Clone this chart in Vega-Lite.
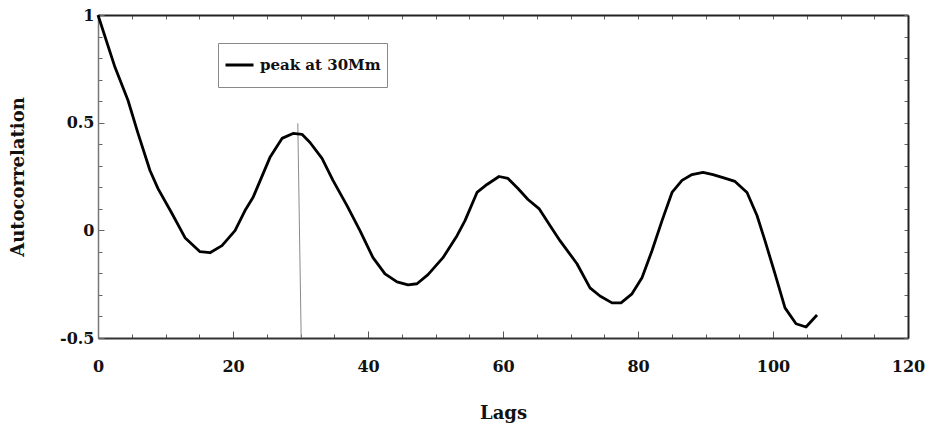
{
  "$schema": "https://vega.github.io/schema/vega-lite/v6.json",
  "autosize": "none",
  "width": 810,
  "height": 323,
  "padding": {"left": 98, "top": 15, "right": 19, "bottom": 88},
  "background": "white",
  "config": {
    "view": {"stroke": null},
    "axis": {"grid": false, "labelFont": "DejaVu Serif", "titleFont": "DejaVu Serif", "labelFontWeight": "bold", "titleFontWeight": "bold", "labelColor": "#111", "titleColor": "#111", "labelFontSize": 16, "titleFontSize": 18}
  },
  "datasets": {
    "acf": [
      {"lag": 0, "value": 1.0, "series": "peak at 30Mm"},
      {"lag": 2.52, "value": 0.757, "series": "peak at 30Mm"},
      {"lag": 4.44, "value": 0.604, "series": "peak at 30Mm"},
      {"lag": 5.93, "value": 0.45, "series": "peak at 30Mm"},
      {"lag": 7.7, "value": 0.278, "series": "peak at 30Mm"},
      {"lag": 8.89, "value": 0.194, "series": "peak at 30Mm"},
      {"lag": 10.96, "value": 0.078, "series": "peak at 30Mm"},
      {"lag": 12.89, "value": -0.034, "series": "peak at 30Mm"},
      {"lag": 15.11, "value": -0.099, "series": "peak at 30Mm"},
      {"lag": 16.59, "value": -0.104, "series": "peak at 30Mm"},
      {"lag": 18.37, "value": -0.071, "series": "peak at 30Mm"},
      {"lag": 20.3, "value": -0.001, "series": "peak at 30Mm"},
      {"lag": 21.78, "value": 0.092, "series": "peak at 30Mm"},
      {"lag": 22.96, "value": 0.152, "series": "peak at 30Mm"},
      {"lag": 25.48, "value": 0.339, "series": "peak at 30Mm"},
      {"lag": 27.26, "value": 0.427, "series": "peak at 30Mm"},
      {"lag": 28.89, "value": 0.45, "series": "peak at 30Mm"},
      {"lag": 30.22, "value": 0.446, "series": "peak at 30Mm"},
      {"lag": 31.41, "value": 0.408, "series": "peak at 30Mm"},
      {"lag": 33.19, "value": 0.334, "series": "peak at 30Mm"},
      {"lag": 34.81, "value": 0.232, "series": "peak at 30Mm"},
      {"lag": 36.89, "value": 0.115, "series": "peak at 30Mm"},
      {"lag": 38.81, "value": -0.001, "series": "peak at 30Mm"},
      {"lag": 40.74, "value": -0.127, "series": "peak at 30Mm"},
      {"lag": 42.52, "value": -0.202, "series": "peak at 30Mm"},
      {"lag": 44.3, "value": -0.239, "series": "peak at 30Mm"},
      {"lag": 45.93, "value": -0.253, "series": "peak at 30Mm"},
      {"lag": 47.26, "value": -0.248, "series": "peak at 30Mm"},
      {"lag": 48.89, "value": -0.206, "series": "peak at 30Mm"},
      {"lag": 51.11, "value": -0.127, "series": "peak at 30Mm"},
      {"lag": 53.19, "value": -0.025, "series": "peak at 30Mm"},
      {"lag": 54.37, "value": 0.045, "series": "peak at 30Mm"},
      {"lag": 56.15, "value": 0.176, "series": "peak at 30Mm"},
      {"lag": 57.63, "value": 0.213, "series": "peak at 30Mm"},
      {"lag": 59.41, "value": 0.25, "series": "peak at 30Mm"},
      {"lag": 60.74, "value": 0.241, "series": "peak at 30Mm"},
      {"lag": 62.22, "value": 0.194, "series": "peak at 30Mm"},
      {"lag": 63.7, "value": 0.143, "series": "peak at 30Mm"},
      {"lag": 65.33, "value": 0.101, "series": "peak at 30Mm"},
      {"lag": 66.96, "value": 0.022, "series": "peak at 30Mm"},
      {"lag": 68.44, "value": -0.048, "series": "peak at 30Mm"},
      {"lag": 70.96, "value": -0.155, "series": "peak at 30Mm"},
      {"lag": 72.89, "value": -0.267, "series": "peak at 30Mm"},
      {"lag": 74.37, "value": -0.305, "series": "peak at 30Mm"},
      {"lag": 76.15, "value": -0.337, "series": "peak at 30Mm"},
      {"lag": 77.48, "value": -0.337, "series": "peak at 30Mm"},
      {"lag": 79.11, "value": -0.295, "series": "peak at 30Mm"},
      {"lag": 80.59, "value": -0.22, "series": "peak at 30Mm"},
      {"lag": 82.07, "value": -0.095, "series": "peak at 30Mm"},
      {"lag": 83.56, "value": 0.045, "series": "peak at 30Mm"},
      {"lag": 85.04, "value": 0.176, "series": "peak at 30Mm"},
      {"lag": 86.52, "value": 0.232, "series": "peak at 30Mm"},
      {"lag": 88.0, "value": 0.259, "series": "peak at 30Mm"},
      {"lag": 89.63, "value": 0.269, "series": "peak at 30Mm"},
      {"lag": 91.11, "value": 0.259, "series": "peak at 30Mm"},
      {"lag": 92.59, "value": 0.245, "series": "peak at 30Mm"},
      {"lag": 94.37, "value": 0.227, "series": "peak at 30Mm"},
      {"lag": 96.15, "value": 0.176, "series": "peak at 30Mm"},
      {"lag": 97.63, "value": 0.069, "series": "peak at 30Mm"},
      {"lag": 98.81, "value": -0.048, "series": "peak at 30Mm"},
      {"lag": 100.3, "value": -0.202, "series": "peak at 30Mm"},
      {"lag": 101.78, "value": -0.36, "series": "peak at 30Mm"},
      {"lag": 103.41, "value": -0.434, "series": "peak at 30Mm"},
      {"lag": 104.89, "value": -0.449, "series": "peak at 30Mm"},
      {"lag": 106.52, "value": -0.393, "series": "peak at 30Mm"}
    ],
    "ref": [
      {"lag": 29.6, "value": 0.497},
      {"lag": 30.1, "value": -0.5}
    ]
  },
  "layer": [
    {
      "data": {"name": "ref"},
      "mark": {"type": "line", "stroke": "#8a8a8a", "strokeWidth": 1},
      "encoding": {
        "x": {"field": "lag", "type": "quantitative", "scale": {"domain": [0, 120], "nice": false, "zero": false},
          "axis": {"orient": "top", "labels": false, "title": null, "values": [0,5,10,15,20,25,30,35,40,45,50,55,60,65,70,75,80,85,90,95,100,105,110,115,120], "tickSize": -4, "tickColor": "#666", "domainColor": "#222", "domainWidth": 2}},
        "y": {"field": "value", "type": "quantitative", "scale": {"domain": [-0.5, 1], "nice": false, "zero": false},
          "axis": {"orient": "right", "labels": false, "title": null, "values": [-0.5,-0.4,-0.3,-0.2,-0.1,0,0.1,0.2,0.3,0.4,0.5,0.6,0.7,0.8,0.9,1], "tickSize": -4, "tickColor": "#666", "domainColor": "#222", "domainWidth": 2}}
      }
    },
    {
      "data": {"name": "acf"},
      "mark": {"type": "line", "strokeWidth": 2.8, "strokeJoin": "round"},
      "encoding": {
        "x": {"field": "lag", "type": "quantitative", "scale": {"domain": [0, 120], "nice": false, "zero": false},
          "axis": {"orient": "bottom", "title": "Lags", "values": [0,5,10,15,20,25,30,35,40,45,50,55,60,65,70,75,80,85,90,95,100,105,110,115,120],
            "labelExpr": "datum.value % 20 === 0 ? '' + datum.value : ''",
            "tickSize": {"condition": {"test": "datum.value % 20 === 0", "value": -7}, "value": -4},
            "tickColor": "#555", "domainColor": "#333", "domainWidth": 2, "labelPadding": 27, "labelBaseline": "top", "labelFlush": false, "titlePadding": 30}},
        "y": {"field": "value", "type": "quantitative", "scale": {"domain": [-0.5, 1], "nice": false, "zero": false},
          "axis": {"orient": "left", "title": "Autocorrelation", "values": [-0.5,-0.4,-0.3,-0.2,-0.1,0,0.1,0.2,0.3,0.4,0.5,0.6,0.7,0.8,0.9,1],
            "labelExpr": "abs(datum.value * 2 - round(datum.value * 2)) < 0.001 ? '' + datum.value : ''",
            "tickSize": {"condition": {"test": "abs(datum.value * 2 - round(datum.value * 2)) < 0.001", "value": -6}, "value": -4},
            "tickColor": "#666", "domainColor": "#777", "domainWidth": 1.5, "labelPadding": 10, "labelFlush": false, "titlePadding": 32}},
        "color": {"field": "series", "type": "nominal", "scale": {"range": ["#000000"]},
          "legend": {"title": null, "orient": "none", "legendX": 120, "legendY": 28, "strokeColor": "#888", "fillColor": "white", "padding": 6, "clipHeight": 32, "symbolType": "stroke", "symbolSize": 784, "symbolStrokeWidth": 3, "labelFont": "DejaVu Serif", "labelFontWeight": "bold", "labelFontSize": 15, "labelColor": "#111", "labelOffset": 5}}
      }
    }
  ],
  "resolve": {"axis": {"x": "independent", "y": "independent"}}
}
